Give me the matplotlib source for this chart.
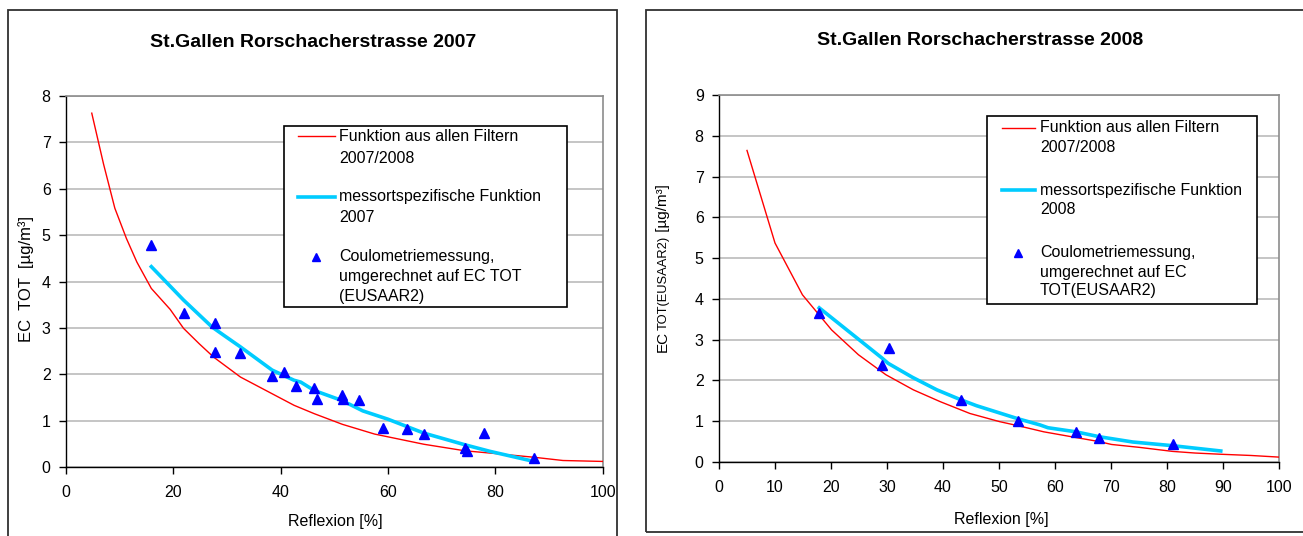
import matplotlib
matplotlib.use("Agg")
import matplotlib.pyplot as plt
from matplotlib.patches import Rectangle
from matplotlib.lines import Line2D

plt.rcParams['font.family'] = ['Liberation Sans', 'DejaVu Sans']

W, H = 1303, 536

# ---- 2007 ----
red07_x = [4.8, 7.0, 9.1, 11.25, 13.2, 15.9, 19.4, 21.9, 24.8, 27.5, 32.5, 38.4, 42.5, 46.25,
           51.5, 57.5, 66.7, 74.3, 80, 87.2, 92.6, 100]
red07_y = [7.63, 6.53, 5.58, 4.93, 4.42, 3.85, 3.40, 2.99, 2.66, 2.37, 1.94, 1.58, 1.33, 1.15,
           0.92, 0.71, 0.49, 0.35, 0.29, 0.21, 0.14, 0.12]
cyan07_x = [15.9, 21.9, 27.2, 29.4, 32.5, 38.4, 42.5, 43.75, 46.25, 51.5, 55.3, 60, 66.7, 74.3, 78.9, 87.2]
cyan07_y = [4.32, 3.60, 3.02, 2.84, 2.59, 2.09, 1.87, 1.83, 1.65, 1.43, 1.21, 1.03, 0.73, 0.48, 0.34, 0.12]
pts07_x = [15.9, 21.9, 27.8, 27.8, 32.5, 38.4, 40.7, 42.8, 46.2, 46.7, 51.5, 51.7, 54.5, 59.1,
           63.5, 66.7, 74.4, 74.7, 77.8, 87.2]
pts07_y = [4.78, 3.33, 3.11, 2.48, 2.45, 1.96, 2.05, 1.74, 1.71, 1.47, 1.56, 1.46, 1.44, 0.85,
           0.82, 0.71, 0.40, 0.35, 0.74, 0.19]

# ---- 2008 ----
red08_x = [5, 10, 14.9, 20.1, 24.9, 29.8, 34.7, 39.5, 44.8, 50.1, 53.4, 58, 63.75, 67.9, 70.1,
           75, 81, 85, 89.6, 95, 100]
red08_y = [7.64, 5.37, 4.10, 3.24, 2.63, 2.14, 1.77, 1.48, 1.19, 0.99, 0.89, 0.74, 0.60, 0.50, 0.43,
           0.36, 0.26, 0.22, 0.19, 0.16, 0.12]
cyan08_x = [17.9, 29.1, 30.2, 34.5, 38.9, 43.1, 46, 53.4, 57.3, 58.75, 63.75, 67.9, 73.9, 81, 89.6]
cyan08_y = [3.78, 2.55, 2.42, 2.08, 1.77, 1.53, 1.38, 1.06, 0.91, 0.84, 0.74, 0.62, 0.49, 0.40, 0.27]
pts08_x = [17.9, 29.1, 30.4, 43.2, 53.4, 63.8, 67.9, 81.0]
pts08_y = [3.65, 2.38, 2.79, 1.53, 1.01, 0.73, 0.58, 0.43]

lab_red = ["Funktion aus allen Filtern", "2007/2008"]
lab_pts07 = ["Coulometriemessung,", "umgerechnet auf EC TOT", "(EUSAAR2)"]
lab_pts08 = ["Coulometriemessung,", "umgerechnet auf EC", "TOT(EUSAAR2)"]

RED, CYAN, BLUE = '#ff0000', '#00ccff', '#0000ff'
FS = 11.5

fig = plt.figure(figsize=(W / 100, H / 100), dpi=100)


def fx(x):
    return x / W


def fy(y):
    return 1 - y / H


def make_axes(l, t, r, b, ymax, xstep):
    ax = fig.add_axes([fx(l), fy(b), fx(r) - fx(l), fy(t) - fy(b)])
    ax.set_xlim(0, 100)
    ax.set_ylim(0, ymax)
    ax.set_xticks(range(0, 101, xstep))
    ax.set_yticks(range(0, ymax + 1))
    ax.grid(axis='y', color='#c0c0c0', lw=1.3)
    ax.set_axisbelow(True)
    for s in ['top', 'right']:
        ax.spines[s].set_color('#8c8c8c')
        ax.spines[s].set_linewidth(1.2)
    for s in ['left', 'bottom']:
        ax.spines[s].set_color('#000000')
        ax.spines[s].set_linewidth(1.0)
    ax.tick_params(direction='out', length=5, width=1, labelsize=FS, colors='black')
    ax.tick_params(axis='y', pad=6)
    ax.tick_params(axis='x', pad=8)
    return ax


def legend(box, x_line, x_text, red_y, cyan_y, tri, rows):
    x0, y0, x1, y1 = box
    fig.add_artist(Rectangle((fx(x0), fy(y1)), fx(x1) - fx(x0), fy(y0) - fy(y1),
                             transform=fig.transFigure, facecolor='white',
                             edgecolor='black', lw=1.2, zorder=5))
    fig.add_artist(Line2D([fx(x_line[0]), fx(x_line[1])], [fy(red_y)] * 2, color=RED, lw=1.0,
                          transform=fig.transFigure, zorder=6))
    fig.add_artist(Line2D([fx(x_line[0]), fx(x_line[1])], [fy(cyan_y)] * 2, color=CYAN, lw=2.6,
                          transform=fig.transFigure, zorder=6))
    fig.add_artist(Line2D([fx(tri[0])], [fy(tri[1])], marker='^', ms=5.5, color=BLUE, ls='none',
                          transform=fig.transFigure, zorder=6))
    for text, yc in rows:
        fig.text(fx(x_text), fy(yc + 5.5), text, fontsize=FS, va='baseline', ha='left', zorder=7)


# panel frames
fig.add_artist(Rectangle((fx(8), fy(560)), fx(617) - fx(8), fy(10) - fy(560), transform=fig.transFigure,
                         fill=False, edgecolor='#303030', lw=1.3, zorder=10))
fig.add_artist(Rectangle((fx(646), fy(532)), fx(1320) - fx(646), fy(9.5) - fy(532), transform=fig.transFigure,
                         fill=False, edgecolor='#303030', lw=1.3, zorder=10))

# ---- left chart ----
ax1 = make_axes(66, 96, 602.7, 467, 8, 20)
ax1.plot(red07_x, red07_y, color=RED, lw=1.0, zorder=3)
ax1.plot(cyan07_x, cyan07_y, color=CYAN, lw=2.6, zorder=3)
ax1.plot(pts07_x, pts07_y, ls='none', marker='^', ms=6.5, color=BLUE, zorder=4)
fig.text(fx(313), fy(46.7), "St.Gallen Rorschacherstrasse 2007", fontsize=14, fontweight='bold',
         ha='center', va='baseline')
fig.text(fx(335), fy(526), "Reflexion [%]", fontsize=FS, ha='center', va='baseline')
fig.text(fx(31), fy(279), "EC  TOT  [µg/m³]", fontsize=12, rotation=90, rotation_mode='anchor',
         ha='center', va='baseline')
legend((284, 126, 567, 307), (298, 335), 339, 135.7, 196.7, (316, 256.7),
       [(lab_red[0], 135.7), (lab_red[1], 157.3),
        ("messortspezifische Funktion", 196), ("2007", 216.7),
        (lab_pts07[0], 255), (lab_pts07[1], 275), (lab_pts07[2], 295)])

# ---- right chart ----
ax2 = make_axes(719, 95, 1279, 462, 9, 10)
ax2.plot(red08_x, red08_y, color=RED, lw=1.0, zorder=3)
ax2.plot(cyan08_x, cyan08_y, color=CYAN, lw=2.6, zorder=3)
ax2.plot(pts08_x, pts08_y, ls='none', marker='^', ms=6.5, color=BLUE, zorder=4)
fig.text(fx(980), fy(45), "St.Gallen Rorschacherstrasse 2008", fontsize=14, fontweight='bold',
         ha='center', va='baseline')
fig.text(fx(1001), fy(524), "Reflexion [%]", fontsize=FS, ha='center', va='baseline')
legend((987, 116, 1257, 304), (1002, 1035), 1040, 127.5, 190, (1018, 253),
       [(lab_red[0], 126), (lab_red[1], 146.7),
        ("messortspezifische Funktion", 190), ("2008", 209),
        (lab_pts08[0], 251.7), (lab_pts08[1], 271), (lab_pts08[2], 290)])

# composed y label: EC + small TOT(EUSAAR2) + [µg/m³]
rend = fig.canvas.get_renderer()
ypos = 352
for part, size, gap in [("EC", 11, 0.5), ("TOT(EUSAAR2)", 9.3, 0.5), (" [µg/m³]", 11, 0)]:
    t = fig.text(fx(667), fy(ypos), part, fontsize=size, rotation=90, rotation_mode='anchor',
                 ha='left', va='baseline')
    ypos -= t.get_window_extent(rend).height + gap

fig.savefig("out.png", dpi=100)
